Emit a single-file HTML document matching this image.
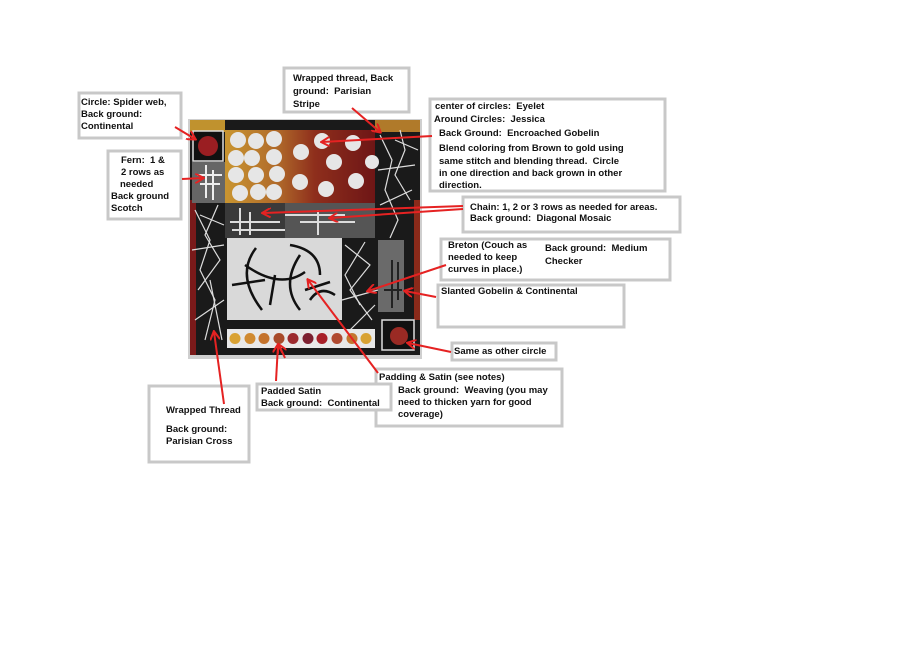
<!DOCTYPE html>
<html><head><meta charset="utf-8"><style>
html,body{margin:0;padding:0;background:#fff;width:900px;height:668px;overflow:hidden}
text{font-family:"Liberation Sans",sans-serif;font-weight:bold;font-size:9.5px;fill:#111;white-space:pre}
</style></head><body>
<svg width="900" height="668" viewBox="0 0 900 668" xmlns="http://www.w3.org/2000/svg" xml:space="preserve">
<defs>
<linearGradient id="g1" x1="0" x2="1" y1="0" y2="0">
<stop offset="0" stop-color="#c99530"/><stop offset="0.35" stop-color="#b06a2a"/><stop offset="0.6" stop-color="#8e2e1c"/><stop offset="1" stop-color="#6e1616"/></linearGradient>
<marker id="ah" markerWidth="10" markerHeight="10" refX="8" refY="5" orient="auto" markerUnits="userSpaceOnUse"><path d="M0,0 L9,5 L0,10" fill="none" stroke="#e52222" stroke-width="2"/></marker>
</defs>
<rect x="188" y="119" width="234" height="240" fill="#cfcfcf"/>
<rect x="190" y="120" width="230" height="235" fill="#1a1a1a"/>
<rect x="190" y="120" width="35" height="12" fill="#c0922e"/>
<rect x="190" y="200" width="6" height="155" fill="#7a1a1a"/>
<rect x="414" y="200" width="6" height="120" fill="#8a2a1a"/>
<rect x="375" y="120" width="45" height="12" fill="#b07a2a"/>
<rect x="193" y="131" width="30" height="30" fill="#111" stroke="#ddd" stroke-width="1.5"/>
<circle cx="208" cy="146" r="10" fill="#9a1e22"/>
<rect x="192" y="162" width="33" height="41" fill="#666"/>
<g stroke="#eee" stroke-width="2"><line x1="206" y1="165" x2="206" y2="198"/><line x1="213" y1="170" x2="213" y2="200"/><line x1="197" y1="175" x2="222" y2="175"/><line x1="200" y1="184" x2="220" y2="184"/></g>
<rect x="225" y="130" width="150" height="73" fill="url(#g1)"/>
<g fill="#e6e6e6">
<circle cx="238" cy="140" r="8"/><circle cx="256" cy="141" r="8"/><circle cx="274" cy="139" r="8"/>
<circle cx="236" cy="158" r="8"/><circle cx="252" cy="158" r="8"/><circle cx="274" cy="157" r="8"/>
<circle cx="236" cy="175" r="8"/><circle cx="256" cy="175" r="8"/><circle cx="277" cy="174" r="8"/>
<circle cx="240" cy="193" r="8"/><circle cx="258" cy="192" r="8"/><circle cx="274" cy="192" r="8"/>
<circle cx="301" cy="152" r="8"/><circle cx="300" cy="182" r="8"/><circle cx="322" cy="141" r="8"/>
<circle cx="334" cy="162" r="8"/><circle cx="326" cy="189" r="8"/><circle cx="353" cy="143" r="8"/><circle cx="356" cy="181" r="8"/><circle cx="372" cy="162" r="7"/>
</g>
<rect x="225" y="203" width="150" height="35" fill="#3a3a3a"/>
<rect x="285" y="203" width="90" height="35" fill="#555"/>
<g stroke="#ddd" stroke-width="2"><line x1="230" y1="222" x2="280" y2="222"/><line x1="240" y1="208" x2="240" y2="235"/><line x1="250" y1="212" x2="250" y2="235"/><line x1="232" y1="230" x2="285" y2="230"/><line x1="285" y1="215" x2="345" y2="215"/><line x1="300" y1="222" x2="355" y2="222"/><line x1="318" y1="210" x2="318" y2="235"/></g>
<g stroke="#ddd" stroke-width="1.2" fill="none">
<path d="M380 135 L392 160 L385 190 L398 220 L390 238"/><path d="M400 130 L405 150 L395 175 L410 200"/><path d="M378 170 L415 165"/><path d="M380 205 L412 190"/><path d="M395 140 L418 150"/>
<path d="M195 210 L210 240 L200 270 L215 300 L205 340"/><path d="M218 205 L205 235 L220 260 L198 290"/><path d="M192 250 L224 245"/><path d="M195 320 L224 300"/><path d="M200 215 L224 225"/><path d="M210 280 L222 340"/>
<path d="M345 245 L370 265 L350 290 L372 320"/><path d="M365 242 L345 275 L360 305"/><path d="M342 300 L378 290"/><path d="M350 330 L375 305"/>
</g>
<rect x="227" y="238" width="115" height="82" fill="#d9d9d9"/>
<g stroke="#111" stroke-width="2.5" fill="none">
<path d="M256 248 Q235 275 262 310"/><path d="M245 265 Q280 290 305 272"/><path d="M290 245 Q320 250 320 275"/><path d="M300 255 Q280 285 300 310"/><path d="M305 290 L330 282"/><path d="M232 285 L265 280"/><path d="M310 300 Q320 285 335 295"/><path d="M275 275 L270 305"/></g>
<rect x="378" y="240" width="26" height="72" fill="#6a6a6a"/>
<g stroke="#222" stroke-width="2"><line x1="392" y1="260" x2="392" y2="308"/><line x1="384" y1="290" x2="402" y2="290"/><line x1="398" y1="262" x2="398" y2="300"/></g>
<rect x="227" y="329" width="148" height="19" fill="#e8e8e8"/>
<g><circle cx="235" cy="338.5" r="5.5" fill="#d9a233"/><circle cx="250" cy="338.5" r="5.5" fill="#d08a30"/><circle cx="264" cy="338.5" r="5.5" fill="#c4732c"/><circle cx="279" cy="338.5" r="5.5" fill="#a84a2a"/><circle cx="293" cy="338.5" r="5.5" fill="#9c2a2e"/><circle cx="308" cy="338.5" r="5.5" fill="#7c2030"/><circle cx="322" cy="338.5" r="5.5" fill="#a82028"/><circle cx="337" cy="338.5" r="5.5" fill="#b04a30"/><circle cx="352" cy="338.5" r="5.5" fill="#c4762e"/><circle cx="366" cy="338.5" r="5.5" fill="#d8a233"/></g>
<rect x="382" y="320" width="32" height="30" fill="#111" stroke="#ddd" stroke-width="1.5"/>
<circle cx="399" cy="336" r="9" fill="#9a2a24"/>

<g fill="#fff" stroke="#c8c8c8" stroke-width="3">
<rect x="79" y="93" width="102" height="45"/>
<rect x="108" y="151" width="73" height="68"/>
<rect x="284" y="68" width="125" height="44"/>
<rect x="430" y="99" width="235" height="92"/>
<rect x="463" y="197" width="217" height="35"/>
<rect x="441" y="239" width="229" height="41"/>
<rect x="438" y="285" width="186" height="42"/>
<rect x="452" y="343" width="104" height="17"/>
<rect x="376" y="369" width="186" height="57"/>
<rect x="257" y="384" width="134" height="26"/>
<rect x="149" y="386" width="100" height="76"/>
</g>
<text x="81" y="105">Circle: Spider web,</text><text x="81" y="117">Back ground:</text><text x="81" y="129">Continental</text>
<text x="121" y="163">Fern:  1 &amp;</text><text x="121" y="175">2 rows as</text><text x="120" y="187">needed</text><text x="111" y="199">Back ground</text><text x="111" y="211">Scotch</text>
<text x="293" y="81">Wrapped thread, Back</text><text x="293" y="94">ground:  Parisian</text><text x="293" y="107">Stripe</text>
<text x="435" y="109">center of circles:  Eyelet</text><text x="434" y="122">Around Circles:  Jessica</text><text x="439" y="136">Back Ground:  Encroached Gobelin</text>
<text x="439" y="151">Blend coloring from Brown to gold using</text><text x="439" y="164">same stitch and blending thread.  Circle</text><text x="439" y="176">in one direction and back grown in other</text><text x="439" y="188">direction.</text>
<text x="470" y="210">Chain: 1, 2 or 3 rows as needed for areas.</text><text x="470" y="221">Back ground:  Diagonal Mosaic</text>
<text x="448" y="248">Breton (Couch as</text><text x="448" y="260">needed to keep</text><text x="448" y="272">curves in place.)</text>
<text x="545" y="251">Back ground:  Medium</text><text x="545" y="264">Checker</text>
<text x="441" y="294">Slanted Gobelin &amp; Continental</text>
<text x="454" y="354">Same as other circle</text>
<text x="379" y="380">Padding &amp; Satin (see notes)</text><text x="398" y="393">Back ground:  Weaving (you may</text><text x="398" y="405">need to thicken yarn for good</text><text x="398" y="417">coverage)</text>
<text x="261" y="394">Padded Satin</text><text x="261" y="406">Back ground:  Continental</text>
<text x="166" y="413">Wrapped Thread</text><text x="166" y="432">Back ground:</text><text x="166" y="444">Parisian Cross</text>

<g stroke="#e52222" stroke-width="2" fill="none" marker-end="url(#ah)">
<line x1="175" y1="127" x2="195" y2="139"/>
<line x1="182" y1="179" x2="203" y2="178"/>
<line x1="352" y1="108" x2="380" y2="132"/>
<line x1="432" y1="136" x2="322" y2="142"/>
<line x1="463" y1="206" x2="263" y2="213"/>
<line x1="463" y1="209" x2="330" y2="218"/>
<line x1="446" y1="265" x2="368" y2="291"/>
<line x1="436" y1="297" x2="405" y2="291"/>
<line x1="451" y1="352" x2="408" y2="343"/>
<line x1="378" y1="373" x2="308" y2="280"/>
<line x1="276" y1="381" x2="278" y2="345"/>
<line x1="285" y1="358" x2="279" y2="345"/>
<line x1="224" y1="404" x2="214" y2="332"/>
</g>
</svg>
</body></html>
